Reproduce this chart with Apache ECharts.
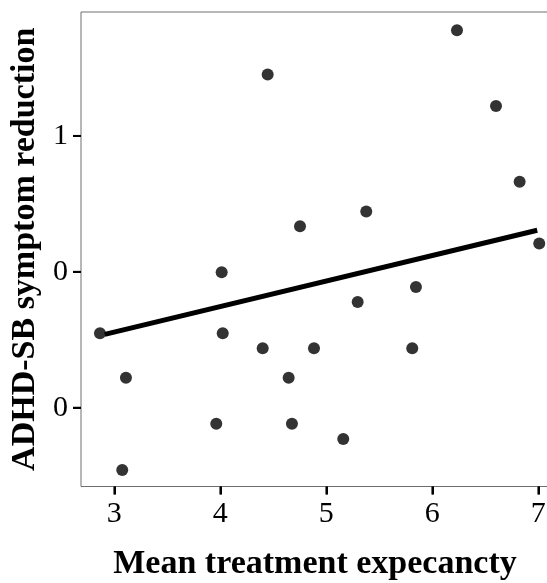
<!DOCTYPE html>
<html>
<head>
<meta charset="utf-8">
<style>
  html, body { margin: 0; padding: 0; background: #fff; }
  #chart { width: 547px; height: 583px; }
</style>
<script src="https://cdn.jsdelivr.net/npm/echarts@6/dist/echarts.min.js"></script>
</head>
<body>
<div id="chart"></div>
<script>
// Expectancy (x) vs symptom reduction (y), one point per participant
const expectancy = [2.865, 3.110, 3.075, 3.962, 4.013, 4.023, 4.400, 4.447, 4.645, 4.676, 4.752,
                    4.884, 5.160, 5.296, 5.377, 5.811, 5.846, 6.233, 6.601, 6.824, 7.009];
const reduction  = [0.274, 0.110, -0.229, -0.059, 0.498, 0.274, 0.219, 1.226, 0.110, -0.059, 0.668,
                    0.219, -0.115, 0.389, 0.722, 0.219, 0.444, 1.389, 1.110, 0.831, 0.604];

// Fitted line end points
const fitX = [2.91, 6.99];
const fitY = [0.270, 0.653];

// Axis ticks and their printed labels
const xTickValues = [3, 4, 5, 6, 7];
const xTickLabels = ['3', '4', '5', '6', '7'];
const yTickValues = [0, 0.5, 1];
const yTickLabels = ['0', '0', '1'];

const points = expectancy.map((x, i) => [x, reduction[i]]);
const fitLine = fitX.map((x, i) => [x, fitY[i]]);

const serif = '"Liberation Serif", "DejaVu Serif", serif';
const frameColor = '#6e6e6e';
const X_MIN = 2.686, X_MAX = 7.101, Y_MIN = -0.290, Y_MAX = 1.456;
const plotRect = { left: 81, top: 12, width: 468, height: 474.5, outerBoundsMode: 'none', containLabel: false };

// Outward tick marks on the bottom and left edges, placed through the data scales
const xTickMarks = xTickValues.map(v => [v, Y_MIN]);
const yTickMarks = yTickValues.map(v => [X_MIN, v]);

const tickStyle = { show: true, length: 8, lineStyle: { color: '#000', width: 2 } };
const hidden = { show: false };

const chart = echarts.init(document.getElementById('chart'), null, { renderer: 'canvas' });
chart.setOption({
  animation: false,
  backgroundColor: '#ffffff',
  // grid 0 holds the data and the frame, grid 1 the y scale, grid 2 the x scale (same rectangle)
  grid: [
    Object.assign({ show: true, borderColor: frameColor, borderWidth: 1, backgroundColor: 'transparent' }, plotRect),
    Object.assign({}, plotRect),
    Object.assign({}, plotRect)
  ],
  xAxis: [
    { gridIndex: 0, type: 'value', min: X_MIN, max: X_MAX, axisLine: hidden, axisTick: hidden, axisLabel: hidden, splitLine: hidden },
    { gridIndex: 1, type: 'value', min: X_MIN, max: X_MAX, axisLine: hidden, axisTick: hidden, axisLabel: hidden, splitLine: hidden },
    {
      gridIndex: 2, type: 'value', min: X_MIN, max: X_MAX, position: 'bottom',
      name: 'Mean treatment expecancty',
      nameLocation: 'middle', nameGap: 61,
      nameTextStyle: { fontFamily: serif, fontWeight: 'bold', fontSize: 34, color: '#000' },
      axisLine: { show: false },
      splitLine: hidden,
      axisTick: Object.assign({ customValues: xTickValues }, tickStyle),
      axisLabel: {
        customValues: xTickValues,
        formatter: v => xTickLabels[xTickValues.indexOf(v)],
        fontFamily: serif, fontSize: 30, color: '#000', margin: 13
      }
    }
  ],
  yAxis: [
    { gridIndex: 0, type: 'value', min: Y_MIN, max: Y_MAX, axisLine: hidden, axisTick: hidden, axisLabel: hidden, splitLine: hidden },
    {
      gridIndex: 1, type: 'value', min: Y_MIN, max: Y_MAX, position: 'left',
      name: 'ADHD-SB symptom reduction',
      nameLocation: 'middle', nameGap: 30, nameRotate: 90,
      nameTextStyle: { fontFamily: serif, fontWeight: 'bold', fontSize: 34, color: '#000' },
      axisLine: { show: false },
      splitLine: hidden,
      axisTick: Object.assign({ customValues: yTickValues }, tickStyle),
      axisLabel: {
        customValues: yTickValues,
        formatter: v => yTickLabels[yTickValues.indexOf(v)],
        fontFamily: serif, fontSize: 30, color: '#000', margin: 13
      }
    },
    { gridIndex: 2, type: 'value', min: 1, max: 2, axisLine: hidden, axisTick: hidden, axisLabel: hidden, splitLine: hidden }
  ],
  series: [
    {
      type: 'line', xAxisIndex: 0, yAxisIndex: 0, data: fitLine, showSymbol: false, symbol: 'none',
      lineStyle: { color: '#000', width: 5 }, z: 2
    },
    {
      type: 'scatter', xAxisIndex: 0, yAxisIndex: 0, data: points, symbol: 'circle', symbolSize: 12,
      itemStyle: { color: '#000' }, z: 3
    },
    {
      type: 'scatter', xAxisIndex: 0, yAxisIndex: 0, data: xTickMarks, clip: false, silent: true,
      symbol: 'rect', symbolSize: [2, 8], symbolOffset: [0, 4],
      itemStyle: { color: '#000' }, z: 4
    },
    {
      type: 'scatter', xAxisIndex: 0, yAxisIndex: 0, data: yTickMarks, clip: false, silent: true,
      symbol: 'rect', symbolSize: [8, 2], symbolOffset: [-4, 0],
      itemStyle: { color: '#000' }, z: 4
    }
  ]
});
</script>
</body>
</html>
